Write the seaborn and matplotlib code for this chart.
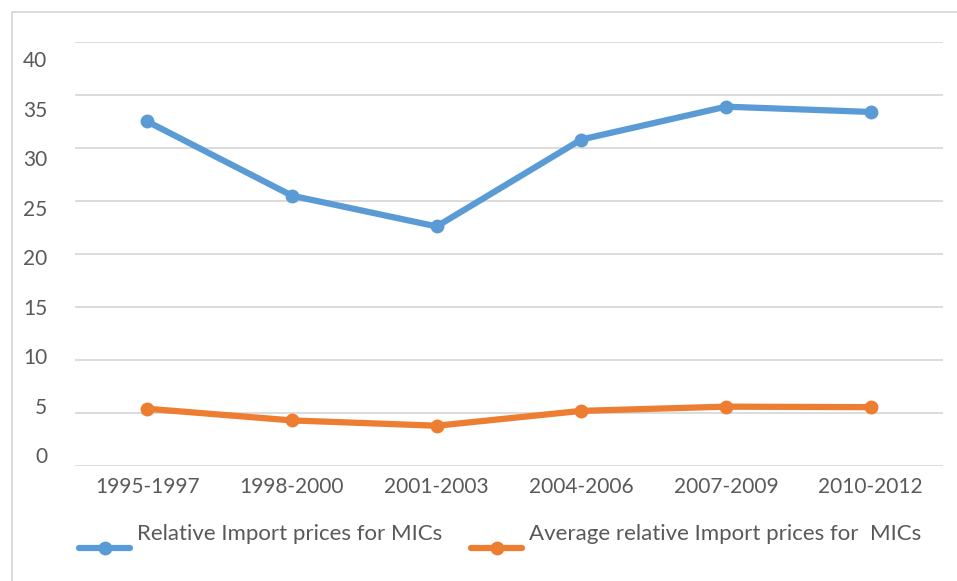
import matplotlib
matplotlib.use("Agg")
import matplotlib.pyplot as plt
import seaborn as sns
import pandas as pd
from matplotlib.patches import Rectangle
from matplotlib.transforms import ScaledTranslation

periods = ["1995-1997", "1998-2000", "2001-2003", "2004-2006", "2007-2009", "2010-2012"]
relative = [32.5, 25.5, 22.6, 30.8, 33.9, 33.4]
average = [5.4, 4.3, 3.8, 5.2, 5.6, 5.55]
series_names = ["Relative Import prices for MICs", "Average relative Import prices for  MICs"]
yticks = [0, 5, 10, 15, 20, 25, 30, 35, 40]

df = pd.DataFrame({
    "period": periods * 2,
    "value": relative + average,
    "series": [series_names[0]] * len(periods) + [series_names[1]] * len(periods),
})

sns.set_theme(style="white")
plt.rcParams["font.family"] = ["Lato", "DejaVu Sans"]

W, H = 957, 581
fig = plt.figure(figsize=(W / 100, H / 100), dpi=100)
ax = fig.add_axes([75 / W, 1 - 466 / H, (943 - 75) / W, (466 - 42) / H])

palette = {series_names[0]: "#5B9BD5", series_names[1]: "#ED7D31"}
sns.lineplot(data=df, x="period", y="value", hue="series", palette=palette,
             marker="o", markersize=10, markeredgewidth=0, linewidth=4.5,
             sort=False, ax=ax)

ax.set_xlim(-0.5, len(periods) - 0.5)
ax.set_ylim(0, 40)
ax.set_yticks(yticks)
ax.yaxis.grid(True, color="#D9D9D9", linewidth=1.3)
ax.xaxis.grid(False)
for s in ax.spines.values():
    s.set_visible(False)
ax.set_xlabel("")
ax.set_ylabel("")
ax.tick_params(axis="y", length=0, labelleft=False)
ax.tick_params(axis="x", length=0, pad=8, labelsize=15, labelcolor="#595959")

# value-axis labels in the reference are spaced slightly tighter than the gridlines
lab = ax.twinx()
lab.set_ylim(-1.11, 41.72)
lab.set_yticks(yticks)
lab.set_yticklabels([str(v) for v in yticks])
lab.yaxis.tick_left()
lab.grid(False)
for s in lab.spines.values():
    s.set_visible(False)
lab.tick_params(axis="y", length=0, pad=20, labelsize=15, labelcolor="#595959",
                labelleft=True, labelright=False)

handles, labels = ax.get_legend_handles_labels()
ax.legend_.remove()
leg = fig.legend(handles, labels, loc="center", bbox_to_anchor=(500 / W, 1 - 550 / H),
                 ncol=2, frameon=False, fontsize=16, handlelength=2.3,
                 handletextpad=0.3, columnspacing=1.3, labelcolor="#595959")
for t in leg.get_texts():
    t.set_transform(t.get_transform() + ScaledTranslation(0, 0.16, fig.dpi_scale_trans))

fig.patches.append(Rectangle((12 / W, -0.1), 1.2, 1 - 12 / H + 0.1,
                             transform=fig.transFigure, fill=False,
                             edgecolor="#D9D9D9", linewidth=1.3))

fig.savefig("out.png", dpi=100, facecolor="white")
